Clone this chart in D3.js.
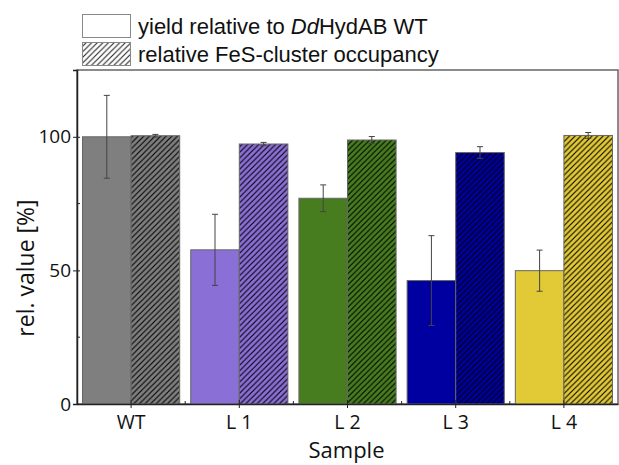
<!DOCTYPE html>
<html>
<head>
<meta charset="utf-8">
<script src="https://cdn.jsdelivr.net/npm/d3@7"></script>
<style>
body{margin:0;background:#fff;}
svg{display:block;}
</style>
</head>
<body>
<svg id="chart" width="619" height="465"></svg>
<script>
// data
var samples = ["WT","L 1","L 2","L 3","L 4"];
var yieldVals = [100, 57.7, 77.0, 46.2, 49.9];
var yieldErr = [15.5, 13.3, 5.0, 16.8, 7.7];
var fesVals = [100.4, 97.3, 98.8, 94.1, 100.5];
var fesErr = [0.5, 0.6, 1.3, 2.2, 1.1];
var colors = ["#7f7f7f","#8a6fd7","#477d1f","#0000a0","#e2c936"];
var yTicks = [0, 50, 100];
var yMinor = [25, 75];

var svg = d3.select("#chart");
var m = {l:77, t:70, r:618, b:404};

var x = d3.scaleBand().domain(samples).range([m.l, m.r]).paddingInner(0).paddingOuter(0);
var y = d3.scaleLinear().domain([0,125]).range([m.b, m.t]);
var barW = x.bandwidth()*0.449;

var hs = 5.6;
function hatch(id, bg, ink){
	var p = defs.append("pattern")
		.attr("id",id)
		.attr("patternUnits","userSpaceOnUse")
		.attr("width",hs).attr("height",hs);
	p.append("rect").attr("width",hs).attr("height",hs).attr("fill",bg);
	p.append("path").attr("d","M-1,1 l2,-2 M0,"+hs+" l"+hs+",-"+hs+" M"+(hs-1)+","+(hs+1)+" l2,-2")
		.attr("stroke",ink).attr("stroke-width",1.1);
}
var defs = svg.append("defs");
colors.forEach(function(c,i){ hatch("hatch"+i, c, "#000"); });
hatch("hatchLeg", "#fff", "#222");

// frame
svg.append("rect").attr("x",m.l).attr("y",m.t)
	.attr("width",m.r-m.l).attr("height",m.b-m.t)
	.attr("fill","none").attr("stroke","#666").attr("stroke-width",1.5);

var g = svg.append("g");
// solid bars
g.selectAll(".bar1").data(samples).enter().append("rect")
	.attr("class","bar1")
	.attr("x",function(d){return x(d)+x.bandwidth()/2-barW;})
	.attr("y",function(d,i){return y(yieldVals[i]);})
	.attr("width",barW)
	.attr("height",function(d,i){return y(0)-y(yieldVals[i]);})
	.attr("fill",function(d,i){return colors[i];})
	.attr("stroke","#666").attr("stroke-width",1);
// hatched bars
g.selectAll(".bar2").data(samples).enter().append("rect")
	.attr("class","bar2")
	.attr("x",function(d){return x(d)+x.bandwidth()/2;})
	.attr("y",function(d,i){return y(fesVals[i]);})
	.attr("width",barW)
	.attr("height",function(d,i){return y(0)-y(fesVals[i]);})
	.attr("fill",function(d,i){return "url(#hatch"+i+")";})
	.attr("stroke","#666").attr("stroke-width",1);

// error bars
function errBars(vals, errs, off){
	samples.forEach(function(d,i){
		var cx = x(d)+x.bandwidth()/2+off;
		var y1 = y(vals[i]+errs[i]), y2 = y(vals[i]-errs[i]);
		g.append("line").attr("x1",cx).attr("x2",cx).attr("y1",y1).attr("y2",y2)
			.attr("stroke","#444").attr("stroke-width",1);
		[y1,y2].forEach(function(yy){
			g.append("line").attr("x1",cx-3).attr("x2",cx+3).attr("y1",yy).attr("y2",yy)
				.attr("stroke","#444").attr("stroke-width",1);
		});
	});
}
errBars(yieldVals, yieldErr, -barW/2);
errBars(fesVals, fesErr, barW/2);

// y axis
var yAxis = svg.append("g").attr("transform","translate("+m.l+",0)")
	.call(d3.axisLeft(y).tickValues(yTicks).tickSize(4).tickPadding(2));
yAxis.select(".domain").attr("stroke","#222").attr("stroke-width",1.5);
yAxis.selectAll(".tick line").attr("x2",-4).attr("x1",3).attr("stroke","#222");
yAxis.selectAll("text").attr("font-family","Open Sans").attr("font-size",19).attr("fill","#111");
svg.append("g").selectAll("line").data(yMinor).enter().append("line")
	.attr("x1",m.l).attr("x2",m.l+3)
	.attr("y1",function(d){return y(d);}).attr("y2",function(d){return y(d);})
	.attr("stroke","#222");

// x axis
var xAxis = svg.append("g").attr("transform","translate(0,"+m.b+")")
	.call(d3.axisBottom(x).tickSize(4).tickPadding(7).tickSizeOuter(0));
xAxis.select(".domain").attr("stroke","#222").attr("stroke-width",1.5);
xAxis.selectAll(".tick line").attr("y1",-4).attr("y2",4).attr("stroke","#222");
xAxis.selectAll("text").attr("font-family","Open Sans").attr("font-size",19.5).attr("fill","#111");
svg.append("g").selectAll("line").data(samples.slice(1)).enter().append("line")
	.attr("x1",function(d){return x(d);}).attr("x2",function(d){return x(d);})
	.attr("y1",m.b).attr("y2",m.b-3)
	.attr("stroke","#222");

// axis titles
svg.append("text").attr("x",(m.l+m.r)/2-1).attr("y",458)
	.attr("text-anchor","middle").attr("font-family","Open Sans").attr("font-size",22)
	.attr("fill","#111").text("Sample");
svg.append("text").attr("transform","translate(34,268) rotate(-90)")
	.attr("text-anchor","middle").attr("font-family","Open Sans").attr("font-size",23)
	.attr("fill","#111").text("rel. value [%]");

// legend
var leg = svg.append("g").attr("font-family","Liberation Sans, Arial").attr("font-size",22).attr("fill","#111");
leg.append("rect").attr("x",82.5).attr("y",14.5).attr("width",48).attr("height",23)
	.attr("fill","#fff").attr("stroke","#888").attr("stroke-width",1);
leg.append("rect").attr("x",82.5).attr("y",42.5).attr("width",48).attr("height",23)
	.attr("fill","url(#hatchLeg)").attr("stroke","#888").attr("stroke-width",1);
var t1 = leg.append("text").attr("x",138).attr("y",34);
t1.append("tspan").text("yield relative to ");
t1.append("tspan").attr("font-style","italic").text("Dd");
t1.append("tspan").text("HydAB WT");
leg.append("text").attr("x",138).attr("y",62).text("relative FeS-cluster occupancy");
</script>
</body>
</html>
